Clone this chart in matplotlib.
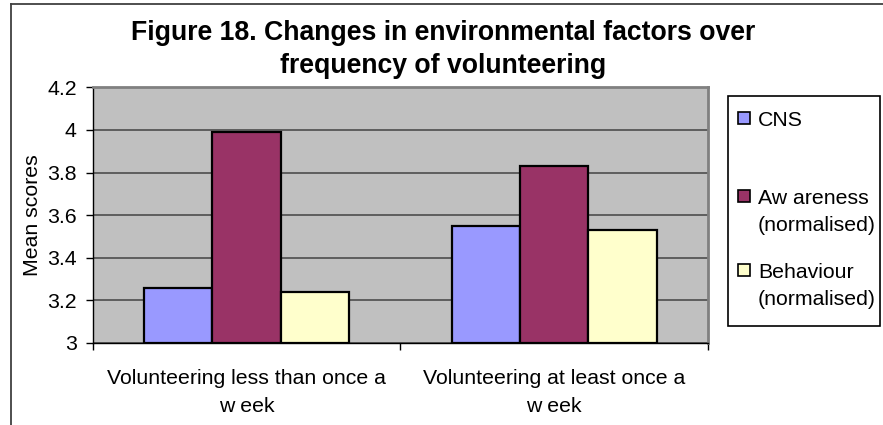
import matplotlib
matplotlib.use("Agg")
import matplotlib.pyplot as plt
import numpy as np
from matplotlib.lines import Line2D
from matplotlib.patches import Rectangle

plt.rcParams["font.family"] = ["Liberation Sans", "DejaVu Sans"]

# --- data ------------------------------------------------------------------
categories = ["Volunteering less than once a\nw eek",
              "Volunteering at least once a\nw eek"]
series_names = ["CNS", "Aw areness\n(normalised)", "Behaviour\n(normalised)"]
cns = [3.26, 3.55]
awareness = [3.99, 3.83]
behaviour = [3.24, 3.53]
yticks = [3, 3.2, 3.4, 3.6, 3.8, 4, 4.2]
ytick_labels = ["3", "3.2", "3.4", "3.6", "3.8", "4", "4.2"]

COLORS = ["#9999ff", "#993366", "#ffffcc"]
PLOT_BG = "#c0c0c0"
GRID = "#5e5e5e"
FS = 15.3

W, H = 883, 425
fig = plt.figure(figsize=(W / 100, H / 100), dpi=100)
fig.patch.set_facecolor("white")


def fx(px):
    return px / W


def fy(py):
    return 1 - py / H


# chart frame (runs off the right and bottom edges)
fig.add_artist(Line2D([fx(11), 1.0], [fy(4), fy(4)], color="#404040", lw=1.3))
fig.add_artist(Line2D([fx(11), fx(11)], [fy(4), 0.0], color="#404040", lw=1.3))

ax = fig.add_axes([fx(92.7), fy(343), fx(708) - fx(92.7), fy(87.3) - fy(343)])
ax.set_facecolor(PLOT_BG)

x = np.arange(len(categories))
bw = 0.6667 / 3
for i, vals in enumerate([cns, awareness, behaviour]):
    ax.bar(x + (i - 1) * bw, np.array(vals) - 3, bottom=3, width=bw,
           color=COLORS[i], edgecolor="black", linewidth=1.6, zorder=3)

ax.set_xlim(-0.5, 1.5)
ax.set_ylim(3, 4.2)
ax.set_yticks(yticks, ytick_labels)
ax.yaxis.grid(True, color=GRID, linewidth=1.4, zorder=1)
ax.set_axisbelow(True)

ax.set_xticks(x, categories)
ax.set_xticks([-0.5, 0.5, 1.5], minor=True)
ax.tick_params(axis="x", which="major", length=0, pad=18.5, labelsize=FS)
ax.tick_params(axis="x", which="minor", length=5, width=1, direction="out")
ax.tick_params(axis="y", length=5, width=1, pad=6.5, labelsize=FS)
for lab in ax.get_xticklabels():
    lab.set_linespacing(1.62)

for side in ("top", "right"):
    ax.spines[side].set_color("#808080")
    ax.spines[side].set_linewidth(2)
for side in ("left", "bottom"):
    ax.spines[side].set_color("black")
    ax.spines[side].set_linewidth(1)

ax.set_ylabel("Mean scores", fontsize=FS, labelpad=4)

fig.text(fx(443), fy(49.5), "Figure 18. Changes in environmental factors over\n"
         "frequency of volunteering", ha="center", va="center",
         fontsize=19.2, fontweight="bold", linespacing=1.33)

# legend box drawn by hand to get the wide entry spacing
fig.add_artist(Rectangle((fx(728), fy(326)), fx(880) - fx(728), fy(96) - fy(326),
                         facecolor="white", edgecolor="black", lw=1.2))
entry_y = [118, 196, 270]
for name, color, ey in zip(series_names, COLORS, entry_y):
    fig.add_artist(Rectangle((fx(738), fy(ey + 6)), fx(12), 12 / H,
                             facecolor=color, edgecolor="black", lw=1.2))
    fig.text(fx(758), fy(ey - 7.3), name, ha="left", va="top",
             multialignment="left", fontsize=FS, linespacing=1.55)

fig.savefig("out.png", dpi=100)
